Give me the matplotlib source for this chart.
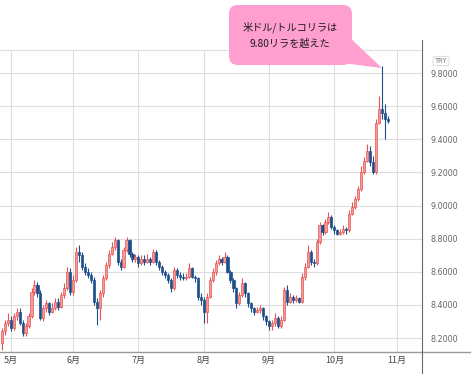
import matplotlib
matplotlib.use("Agg")
import matplotlib.pyplot as plt
from matplotlib.patches import FancyBboxPatch, Polygon
from matplotlib.lines import Line2D
import pandas as pd

# daily USD/TRY candles, weekdays from 2021-04-28 to 2021-10-27
dates = pd.bdate_range("2021-04-28", "2021-10-27")

first_open = 8.17
closes = [
    # Apr
    8.24, 8.29, 8.31,
    # May
    8.26, 8.33, 8.36, 8.29, 8.23, 8.27, 8.33, 8.48, 8.52, 8.47, 8.32,
    8.38, 8.41, 8.36, 8.38, 8.42, 8.39, 8.46, 8.50, 8.60, 8.48,
    # Jun
    8.55, 8.72, 8.70, 8.63, 8.60, 8.58, 8.55, 8.42, 8.38, 8.47, 8.56,
    8.64, 8.71, 8.75, 8.79, 8.66, 8.63, 8.73, 8.79, 8.71, 8.68, 8.69,
    # Jul
    8.65, 8.68, 8.66, 8.68, 8.66, 8.72, 8.66, 8.63, 8.60, 8.58, 8.55,
    8.50, 8.61, 8.58, 8.57, 8.56, 8.57, 8.62, 8.57, 8.56, 8.45, 8.43,
    # Aug
    8.36, 8.45, 8.55, 8.60, 8.65, 8.68, 8.66, 8.69, 8.60, 8.55, 8.50,
    8.41, 8.46, 8.53, 8.47, 8.41, 8.38, 8.36, 8.37, 8.38, 8.33, 8.30,
    # Sep
    8.27, 8.29, 8.32, 8.27, 8.31, 8.49, 8.42, 8.45, 8.43, 8.44, 8.42,
    8.57, 8.63, 8.72, 8.66, 8.65, 8.78, 8.88, 8.84, 8.90, 8.93, 8.87,
    # Oct
    8.85, 8.83, 8.84, 8.86, 8.85, 8.95, 8.99, 9.04, 9.10, 9.20, 9.27,
    9.33, 9.26, 9.20, 9.50, 9.58, 9.56, 9.52, 9.51,
]
highs = [
    8.26, 8.31, 8.35,
    8.33, 8.35, 8.38, 8.38, 8.31, 8.29, 8.35, 8.50, 8.55, 8.54, 8.49,
    8.40, 8.43, 8.42, 8.41, 8.44, 8.44, 8.48, 8.53, 8.63, 8.62,
    8.58, 8.75, 8.76, 8.72, 8.65, 8.62, 8.60, 8.57, 8.44, 8.49, 8.58,
    8.66, 8.73, 8.78, 8.81, 8.80, 8.68, 8.75, 8.81, 8.80, 8.72, 8.71,
    8.70, 8.70, 8.70, 8.71, 8.69, 8.74, 8.73, 8.67, 8.64, 8.61, 8.59,
    8.56, 8.63, 8.62, 8.60, 8.59, 8.59, 8.65, 8.63, 8.58, 8.57, 8.47,
    8.45, 8.47, 8.57, 8.62, 8.67, 8.70, 8.69, 8.72, 8.70, 8.61, 8.56,
    8.51, 8.48, 8.56, 8.54, 8.48, 8.42, 8.39, 8.39, 8.40, 8.39, 8.34,
    8.31, 8.31, 8.35, 8.33, 8.33, 8.51, 8.52, 8.47, 8.46, 8.46, 8.45,
    8.59, 8.65, 8.76, 8.73, 8.68, 8.80, 8.90, 8.89, 8.92, 8.96, 8.94,
    8.88, 8.86, 8.86, 8.88, 8.87, 8.97, 9.02, 9.06, 9.12, 9.24, 9.29,
    9.37, 9.36, 9.30, 9.52, 9.66, 9.84, 9.61, 9.54,
]
lows = [
    8.13, 8.22, 8.27,
    8.24, 8.25, 8.31, 8.28, 8.21, 8.21, 8.26, 8.32, 8.46, 8.45, 8.31,
    8.30, 8.36, 8.34, 8.35, 8.37, 8.37, 8.38, 8.44, 8.49, 8.46,
    8.46, 8.54, 8.66, 8.61, 8.58, 8.56, 8.53, 8.40, 8.28, 8.31, 8.45,
    8.55, 8.62, 8.70, 8.73, 8.64, 8.61, 8.62, 8.72, 8.69, 8.66, 8.66,
    8.63, 8.64, 8.64, 8.65, 8.64, 8.65, 8.64, 8.61, 8.58, 8.56, 8.53,
    8.48, 8.49, 8.56, 8.55, 8.55, 8.55, 8.56, 8.56, 8.54, 8.43, 8.40,
    8.29, 8.29, 8.44, 8.54, 8.58, 8.64, 8.64, 8.65, 8.59, 8.53, 8.48,
    8.38, 8.40, 8.45, 8.45, 8.39, 8.36, 8.34, 8.35, 8.35, 8.31, 8.28,
    8.25, 8.25, 8.27, 8.26, 8.26, 8.30, 8.40, 8.41, 8.41, 8.42, 8.41,
    8.41, 8.55, 8.62, 8.64, 8.63, 8.64, 8.77, 8.82, 8.83, 8.89, 8.86,
    8.83, 8.82, 8.82, 8.83, 8.83, 8.84, 8.94, 8.98, 9.03, 9.09, 9.19,
    9.26, 9.24, 9.19, 9.19, 9.49, 9.52, 9.40, 9.50,
]
opens = [first_open] + closes[:-1]

month_labels = ["5月", "6月", "7月", "8月", "9月", "10月", "11月"]
price_ticks = [8.2, 8.4, 8.6, 8.8, 9.0, 9.2, 9.4, 9.6, 9.8]
note_lines = ["米ドル/トルコリラは", "9.80リラを越えた"]

UP_FACE = "#f39a9a"
UP_EDGE = "#e85252"
DOWN = "#1f4f8b"
GRID = "#dedede"
CJK = ["Noto Sans CJK JP", "DejaVu Sans"]

W, H = 473, 374
fig = plt.figure(figsize=(W / 100, H / 100), dpi=100)
ax = fig.add_axes([0, 22 / H, 422 / W, 302 / H])

xs = list(range(len(dates)))
up = [c >= o for o, c in zip(opens, closes)]

for x, o, h, l, c, u in zip(xs, opens, highs, lows, closes, up):
    col = UP_EDGE if u else DOWN
    ax.vlines(x, l, h, color=col, lw=0.8, zorder=2)
    body = max(abs(c - o), 0.006)
    ax.bar(x, body, bottom=min(o, c), width=0.72,
           color=UP_FACE if u else DOWN, edgecolor=col, lw=0.5, zorder=3)

# month ticks at the first weekday of each month (Nov 1 is past the data)
ext = pd.bdate_range("2021-04-28", "2021-11-01")
month_pos = [i for i in range(1, len(ext)) if ext[i].month != ext[i - 1].month]

ax.set_xlim(-0.61, 141.5)
ax.set_ylim(8.1155, 9.939)
ax.set_xticks(month_pos)
ax.set_xticklabels(month_labels, family=CJK, fontsize=6.5, color="#444")
ax.set_yticks(price_ticks)
ax.set_yticklabels([f"{v:.4f}" for v in price_ticks], fontsize=5.8, color="#666")
ax.yaxis.tick_right()
ax.tick_params(axis="y", length=0, pad=6)
ax.tick_params(axis="x", length=0, pad=3)
ax.grid(color=GRID, lw=0.8, zorder=0)
ax.set_axisbelow(True)
for side in ["left", "right", "bottom"]:
    ax.spines[side].set_visible(False)
ax.spines["top"].set_color(GRID)

# overlay in pixel units for the frame lines and the callout
ov = fig.add_axes([0, 0, 1, 1], zorder=5)
ov.set_xlim(0, W)
ov.set_ylim(H, 0)
ov.axis("off")
ov.add_artist(Line2D([0, 470], [352, 352], color="#9a9a9a", lw=1))
ov.add_artist(Line2D([422, 422], [40, H], color="#6a6a6a", lw=0.8))

ov.text(441, 61, "TRY", fontsize=4.8, color="#777", ha="center", va="center",
        bbox=dict(boxstyle="round,pad=0.25", fc="white", ec="#d8d8d8", lw=0.6))

pink = "#ff9fd0"
ov.add_patch(Polygon([(346, 34), (382, 68), (334, 62)], closed=True, fc=pink, ec="none"))
ov.add_patch(FancyBboxPatch((229, 5), 123, 60, boxstyle="round,pad=0,rounding_size=9",
                            fc=pink, ec="none"))
ov.text(290, 27, note_lines[0], family=CJK, fontsize=7.3, color="#1a1a1a",
        ha="center", va="center")
ov.text(290, 44, note_lines[1], family=CJK, fontsize=7.3, color="#1a1a1a",
        ha="center", va="center")

fig.savefig("out.png", dpi=100)
